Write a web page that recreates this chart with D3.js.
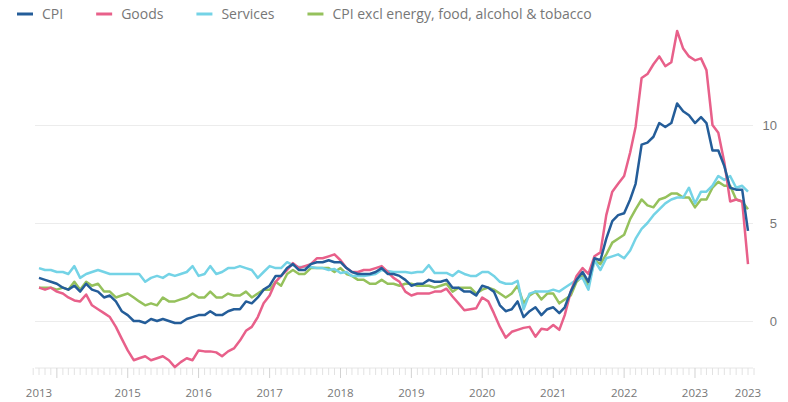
<!DOCTYPE html>
<html>
<head>
<meta charset="utf-8">
<script src="https://cdn.jsdelivr.net/npm/d3@7"></script>
<style>
  body { margin: 0; background: #fff; }
  svg { font-family: "Open Sans", "Lato", sans-serif; }
</style>
</head>
<body>
<div id="chart-area"></div>
<script>
// monthly annual rates, Oct 2013 .. Oct 2023
const START = new Date(2013, 9, 1)

const cpi = [
  2.2, 2.1, 2.0,
  1.9, 1.7, 1.6, 1.8, 1.5, 1.9, 1.6, 1.5, 1.2, 1.3, 1.0, 0.5,
  0.3, 0.0, 0.0, -0.1, 0.1, 0.0, 0.1, 0.0, -0.1, -0.1, 0.1, 0.2,
  0.3, 0.3, 0.5, 0.3, 0.3, 0.5, 0.6, 0.6, 1.0, 0.9, 1.2, 1.6,
  1.8, 2.3, 2.3, 2.7, 2.9, 2.6, 2.6, 2.9, 3.0, 3.0, 3.1, 3.0,
  3.0, 2.7, 2.5, 2.4, 2.4, 2.4, 2.5, 2.7, 2.4, 2.4, 2.3, 2.1,
  1.8, 1.9, 1.9, 2.1, 2.0, 2.0, 2.1, 1.7, 1.7, 1.5, 1.5, 1.3,
  1.8, 1.7, 1.5, 0.8, 0.5, 0.6, 1.0, 0.2, 0.5, 0.7, 0.3, 0.6,
  0.7, 0.4, 0.7, 1.5, 2.1, 2.5, 2.0, 3.2, 3.1, 4.2, 5.1, 5.4,
  5.5, 6.2, 7.0, 9.0, 9.1, 9.4, 10.1, 9.9, 10.1, 11.1, 10.7, 10.5,
  10.1, 10.4, 10.1, 8.7, 8.7, 7.9, 6.8, 6.7, 6.7, 4.6
]

const goods = [
  1.7, 1.6, 1.7,
  1.5, 1.4, 1.2, 1.05, 1.0, 1.35, 0.8, 0.6, 0.4, 0.2, -0.3, -0.9,
  -1.5, -2.0, -1.9, -1.8, -2.0, -1.9, -1.8, -2.0, -2.35, -2.1, -1.9, -2.0,
  -1.5, -1.55, -1.55, -1.6, -1.8, -1.55, -1.4, -1.0, -0.5, -0.3, 0.2, 0.9,
  1.3, 2.0, 2.3, 2.6, 2.95, 2.7, 2.8, 2.9, 3.2, 3.2, 3.3, 3.4,
  3.1, 2.7, 2.5, 2.5, 2.6, 2.6, 2.7, 2.8, 2.5, 2.2, 2.0, 1.5,
  1.3, 1.4, 1.4, 1.4, 1.5, 1.5, 1.65, 1.25, 0.9, 0.55, 0.6, 0.65,
  1.2, 1.0, 0.4, -0.3, -0.85, -0.55, -0.45, -0.35, -0.3, -0.8, -0.4, -0.45,
  -0.2, -0.45, 0.3, 1.5, 2.3, 2.7, 2.4, 3.3, 3.5, 5.4, 6.6, 7.0,
  7.4, 8.6, 9.9, 12.4, 12.6, 13.1, 13.5, 13.0, 13.2, 14.8, 13.9, 13.5,
  13.3, 13.4, 12.8, 10.0, 9.6, 8.1, 6.1, 6.2, 6.1, 2.9
]

const services = [
  2.7, 2.6, 2.6,
  2.5, 2.5, 2.4, 2.8, 2.2, 2.4, 2.5, 2.6, 2.5, 2.4, 2.4, 2.4,
  2.4, 2.4, 2.4, 2.0, 2.2, 2.3, 2.2, 2.4, 2.3, 2.4, 2.5, 2.8,
  2.3, 2.4, 2.8, 2.4, 2.5, 2.7, 2.7, 2.8, 2.7, 2.6, 2.2, 2.5,
  2.8, 2.7, 2.7, 3.0, 2.85, 2.75, 2.75, 2.75, 2.7, 2.7, 2.6, 2.65,
  2.45, 2.5, 2.3, 2.3, 2.3, 2.35, 2.4, 2.6, 2.55, 2.5, 2.5, 2.5,
  2.45, 2.5, 2.5, 2.85, 2.45, 2.45, 2.45, 2.3, 2.55, 2.4, 2.3, 2.3,
  2.5, 2.5, 2.3, 2.0, 1.9, 1.9, 2.05, 0.6, 1.4, 1.5, 1.5, 1.5,
  1.6, 1.5, 1.7, 1.9, 2.1, 2.2, 1.6, 3.1, 2.6, 3.2, 3.3, 3.4,
  3.2, 3.6, 4.2, 4.7, 5.0, 5.4, 5.7, 6.0, 6.2, 6.3, 6.3, 6.8,
  6.0, 6.6, 6.6, 6.9, 7.4, 7.2, 7.4, 6.8, 6.9, 6.6
]

const core = [
  1.7, 1.7, 1.7,
  1.6, 1.7, 1.6, 2.0, 1.6, 2.0, 1.8, 1.9, 1.5, 1.5, 1.2, 1.3,
  1.4, 1.2, 1.0, 0.8, 0.9, 0.8, 1.2, 1.0, 1.0, 1.1, 1.2, 1.4,
  1.2, 1.2, 1.5, 1.2, 1.2, 1.4, 1.3, 1.3, 1.5, 1.2, 1.4, 1.6,
  1.6, 2.0, 1.8, 2.4, 2.6, 2.4, 2.4, 2.7, 2.7, 2.7, 2.7, 2.5,
  2.7, 2.4, 2.3, 2.1, 2.1, 1.9, 1.9, 2.1, 1.9, 1.9, 1.8, 1.9,
  1.9, 1.8, 1.8, 1.8, 1.7, 1.8, 1.9, 1.5, 1.7, 1.7, 1.7, 1.4,
  1.6, 1.7, 1.6, 1.4, 1.2, 1.4, 1.8, 0.9, 1.3, 1.5, 1.1, 1.4,
  1.4, 0.9, 1.1, 1.3, 2.0, 2.3, 1.8, 3.1, 2.9, 3.4, 4.0, 4.2,
  4.4, 5.2, 5.7, 6.2, 5.9, 5.8, 6.2, 6.3, 6.5, 6.5, 6.3, 6.3,
  5.8, 6.2, 6.2, 6.8, 7.1, 6.9, 6.9, 6.2, 6.1, 5.7
]

const seriesNames = ["CPI", "Goods", "Services", "CPI excl energy, food, alcohol & tobacco"]
const seriesColors = ["#245d99", "#e8608a", "#74d3e6", "#95c15c"]
const yTicks = [0, 5, 10]
const xTickDates = ["2013-10", "2015-01", "2016-01", "2017-01", "2018-01", "2019-01",
  "2020-01", "2021-01", "2022-01", "2023-01", "2023-10"]
const xTickLabels = ["2013", "2015", "2016", "2017", "2018", "2019",
  "2020", "2021", "2022", "2023", "2023"]

const WIDTH = 788
const HEIGHT = 402

const parseMonth = d3.timeParse("%Y-%m")
const dates = cpi.map((d, i) => d3.timeMonth.offset(START, i))

const svg = d3.select("#chart-area").append("svg")
  .attr("width", WIDTH)
  .attr("height", HEIGHT)

const x = d3.scaleTime()
  .domain([dates[0], dates[dates.length - 1]])
  .range([39, 748])

const y = d3.scaleLinear()
  .domain([0, 10])
  .range([321, 125])

// gridlines + right labels
const yAxis = d3.axisRight(y)
  .tickValues(yTicks)
  .tickSize(718)
  .tickPadding(0)
  .tickFormat(d3.format("d"))

const gy = svg.append("g")
  .attr("transform", "translate(35, 0)")
  .call(yAxis)
gy.select(".domain").remove()
gy.selectAll(".tick line").attr("stroke", "#ececec").attr("stroke-width", 1.2)
gy.selectAll(".tick text")
  .attr("x", 742)
  .attr("text-anchor", "end")
  .attr("fill", "#777")
  .style("font-size", "13px")

// x axis with monthly ticks
const gx = svg.append("g").attr("transform", "translate(0, 368)")
gx.append("line")
  .attr("x1", 35).attr("x2", 753)
  .attr("stroke", "#e6e6e6")
gx.selectAll(".minor")
  .data(d3.timeMonth.range(d3.timeMonth.offset(START, -1), d3.timeMonth.offset(dates[dates.length - 1], 2)))
  .enter().append("line")
  .attr("x1", d => x(d)).attr("x2", d => x(d))
  .attr("y1", 0)
  .attr("y2", d => d.getMonth() === 0 ? 10 : 7)
  .attr("stroke", d => d.getMonth() === 0 ? "#d2d2d2" : "#e2e2e2")

gx.selectAll(".xlabel")
  .data(xTickDates)
  .enter().append("text")
  .attr("x", d => x(parseMonth(d)))
  .attr("y", 29)
  .attr("text-anchor", "middle")
  .attr("fill", "#777")
  .style("font-size", "11.5px")
  .text((d, i) => xTickLabels[i])

// lines
const allSeries = [cpi, goods, services, core]
const line = d3.line()
  .x((d, i) => x(dates[i]))
  .y(d => y(d))

const drawOrder = [3, 2, 1, 0]
drawOrder.forEach(k => {
  svg.append("path")
    .datum(allSeries[k])
    .attr("fill", "none")
    .attr("stroke", seriesColors[k])
    .attr("stroke-width", 2.5)
    .attr("stroke-linejoin", "round")
    .attr("d", line)
})

// legend
const legend = svg.append("g").attr("transform", "translate(17, 14)")
let lx = 0
seriesNames.forEach((name, k) => {
  const item = legend.append("g").attr("transform", `translate(${lx}, 0)`)
  item.append("line")
    .attr("x1", 0).attr("x2", 16)
    .attr("stroke", seriesColors[k])
    .attr("stroke-width", 3)
  const t = item.append("text")
    .attr("x", 25)
    .attr("y", 5)
    .attr("fill", "#777")
    .style("font-size", "14px")
    .text(name)
  lx += 25 + t.node().getComputedTextLength() + 33
})
</script>
</body>
</html>
